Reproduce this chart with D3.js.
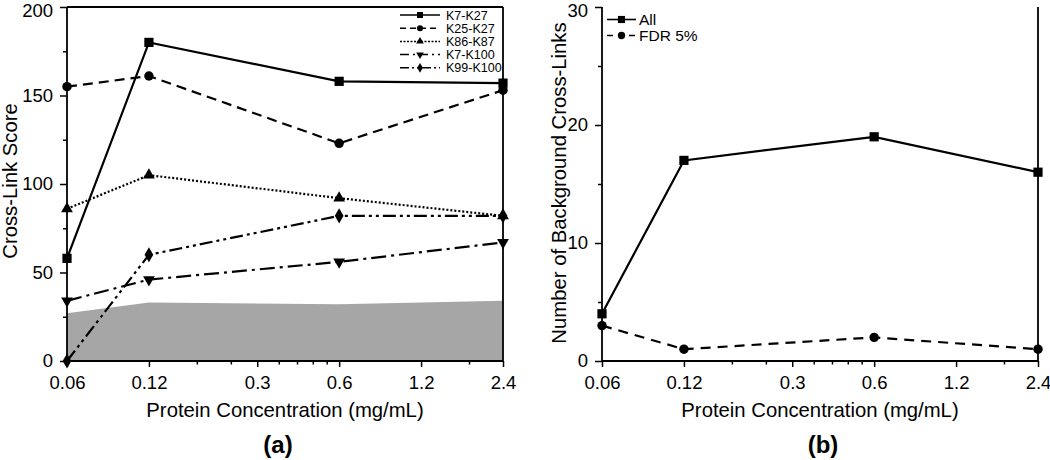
<!DOCTYPE html>
<html><head><meta charset="utf-8">
<script src="https://cdn.jsdelivr.net/npm/d3@7"></script>
<style>
body{margin:0;background:#fff;}
svg text{font-family:"Liberation Sans",Arial,sans-serif;fill:#000;}
</style></head>
<body><svg id="c" width="1050" height="460"></svg>
<script>
const conc = [0.06, 0.12, 0.6, 2.4];
const xMajor = [0.06, 0.12, 0.3, 0.6, 1.2, 2.4];
const xMajorLabels = ["0.06", "0.12", "0.3", "0.6", "1.2", "2.4"];
const xMinor = [0.18, 0.24, 0.36, 0.42, 0.48, 0.54, 1.8];

const seriesNamesA = ["K7-K27", "K25-K27", "K86-K87", "K7-K100", "K99-K100"];
const k7k27 = [58, 180, 158, 157];
const k25k27 = [155, 161, 123, 153];
const k86k87 = [86, 105, 92, 82];
const k7k100 = [34, 46, 56, 67];
const k99k100 = [0, 60, 82, 82];
const background = [27, 33, 32, 34];
const yMajorA = [0, 50, 100, 150, 200];
const yMinorA = [25, 75, 125, 175];

const seriesNamesB = ["All", "FDR 5%"];
const allLinks = [4, 17, 19, 16];
const fdrLinks = [3, 1, 2, 1];
const yMajorB = [0, 10, 20, 30];
const yMinorB = [5, 15, 25];

const svg = d3.select("#c");
const yTop = 7, yBot = 361;

const styles = [
  {dash: null, sym: d3.symbolSquare, size: 85, rot: 0},
  {dash: "10,6", sym: d3.symbolCircle, size: 70, rot: 0},
  {dash: "2,2", sym: d3.symbolTriangle, size: 60, rot: 0},
  {dash: "15,5,3,5", sym: d3.symbolTriangle, size: 60, rot: 180},
  {dash: "13,4,3,4,3,4", sym: d3.symbolDiamond, size: 66, rot: 0}
];

function drawAxes(x, y, yMaj, yMin, left, right) {
  const gx = svg.append("g").attr("transform", `translate(0,${yBot})`);
  gx.call(d3.axisBottom(x).tickValues(xMajor).tickSize(6).tickPadding(9)
      .tickFormat((d,i) => xMajorLabels[i]));
  gx.append("g").call(d3.axisBottom(x).tickValues(xMinor).tickSize(3.5).tickFormat(""));
  gx.selectAll("path").remove();
  gx.selectAll("text").style("font-size", "18.5px");
  gx.selectAll("line").attr("stroke-width", 1.5);
  const gy = svg.append("g").attr("transform", `translate(${left},0)`);
  gy.call(d3.axisLeft(y).tickValues(yMaj).tickSize(7).tickPadding(7));
  gy.append("g").call(d3.axisLeft(y).tickValues(yMin).tickSize(4).tickFormat(""));
  gy.selectAll("path").remove();
  gy.selectAll("text").style("font-size", "18.5px");
  // keep the top label inside the picture, as in the reference
  gy.selectAll(".tick text").filter(d => d === yMaj[yMaj.length - 1]).attr("dy", "0.5em");
  gy.selectAll("line").attr("stroke-width", 1.5);
  svg.append("line").attr("x1", left).attr("x2", left).attr("y1", yTop).attr("y2", yBot)
    .attr("stroke", "#000").attr("stroke-width", 1.8);
  svg.append("line").attr("x1", left).attr("x2", right).attr("y1", yBot).attr("y2", yBot)
    .attr("stroke", "#000").attr("stroke-width", 1.8);
  svg.append("line").attr("x1", right).attr("x2", right).attr("y1", yTop).attr("y2", yBot)
    .attr("stroke", "#000").attr("stroke-width", 1.8);
}

function drawSeries(x, y, vals, st) {
  const line = d3.line().x((d,i) => x(conc[i])).y(d => y(d));
  svg.append("path").datum(vals).attr("d", line).attr("fill", "none")
    .attr("stroke", "#000").attr("stroke-width", 2.2)
    .attr("stroke-dasharray", st.dash);
  svg.append("g").selectAll("path").data(vals).join("path")
    .attr("d", d3.symbol().type(st.sym).size(st.size))
    .attr("transform", (d,i) => `translate(${x(conc[i])},${y(d)}) rotate(${st.rot})`)
    .attr("fill", "#000");
}

// ---------- Panel (a) ----------
const xA = d3.scaleLog().domain([0.06, 2.4]).range([67, 503]);
const yA = d3.scaleLinear().domain([0, 200]).range([yBot, yTop]);

svg.append("path").datum(background)
  .attr("d", d3.area().x((d,i) => xA(conc[i])).y0(yA(0)).y1(d => yA(d)))
  .attr("fill", "#a6a6a6");

drawAxes(xA, yA, yMajorA, yMinorA, 67, 503);
svg.append("line").attr("x1", 67).attr("x2", 503).attr("y1", yTop).attr("y2", yTop)
  .attr("stroke", "#000").attr("stroke-width", 1.8);

const dataA = [k7k27, k25k27, k86k87, k7k100, k99k100];
dataA.forEach((v, i) => drawSeries(xA, yA, v, styles[i]));

// legend a
const legDash = [null, "6,4", "2,1.5", "9,4,2,4", "9,3,2,3,2,3"];
const legA = svg.append("g");
seriesNamesA.forEach((n, i) => {
  const yy = 15 + i * 13.2;
  const st = styles[i];
  legA.append("line").attr("x1", 400).attr("x2", 440).attr("y1", yy).attr("y2", yy)
    .attr("stroke", "#000").attr("stroke-width", 1.5).attr("stroke-dasharray", legDash[i]);
  legA.append("path").attr("d", d3.symbol().type(st.sym).size(st.size * 0.42))
    .attr("transform", `translate(420,${yy}) rotate(${st.rot})`).attr("fill", "#000");
  legA.append("text").attr("x", 446).attr("y", yy).attr("dy", "0.36em")
    .style("font-size", "12.5px").text(n);
});

svg.append("text").attr("x", 285).attr("y", 417).attr("text-anchor", "middle")
  .style("font-size", "20.3px").text("Protein Concentration (mg/mL)");
svg.append("text").attr("transform", "translate(17,181) rotate(-90)").attr("text-anchor", "middle")
  .style("font-size", "20.3px").text("Cross-Link Score");
svg.append("text").attr("x", 278).attr("y", 453).attr("text-anchor", "middle")
  .style("font-size", "24px").style("font-weight", "bold").text("(a)");

// ---------- Panel (b) ----------
const xB = d3.scaleLog().domain([0.06, 2.4]).range([602, 1038]);
const yB = d3.scaleLinear().domain([0, 30]).range([yBot, yTop]);
drawAxes(xB, yB, yMajorB, yMinorB, 602, 1038);

drawSeries(xB, yB, allLinks, styles[0]);
drawSeries(xB, yB, fdrLinks, {dash: "10,7", sym: d3.symbolCircle, size: 70, rot: 0});

const legB = svg.append("g");
const stB = [styles[0], {dash: "6,5", sym: d3.symbolCircle, size: 70, rot: 0}];
seriesNamesB.forEach((n, i) => {
  const yy = 19.5 + i * 16;
  legB.append("line").attr("x1", 607).attr("x2", 636).attr("y1", yy).attr("y2", yy)
    .attr("stroke", "#000").attr("stroke-width", 1.6).attr("stroke-dasharray", stB[i].dash);
  legB.append("path").attr("d", d3.symbol().type(stB[i].sym).size(stB[i].size * 0.6))
    .attr("transform", `translate(621.5,${yy})`).attr("fill", "#000");
  legB.append("text").attr("x", 639).attr("y", yy).attr("dy", "0.36em")
    .style("font-size", "15.5px").text(n);
});

svg.append("text").attr("x", 820).attr("y", 417).attr("text-anchor", "middle")
  .style("font-size", "20.3px").text("Protein Concentration (mg/mL)");
svg.append("text").attr("transform", "translate(566,183) rotate(-90)").attr("text-anchor", "middle")
  .style("font-size", "20.3px").text("Number of Background Cross-Links");
svg.append("text").attr("x", 823).attr("y", 453).attr("text-anchor", "middle")
  .style("font-size", "24px").style("font-weight", "bold").text("(b)");
</script></body></html>
